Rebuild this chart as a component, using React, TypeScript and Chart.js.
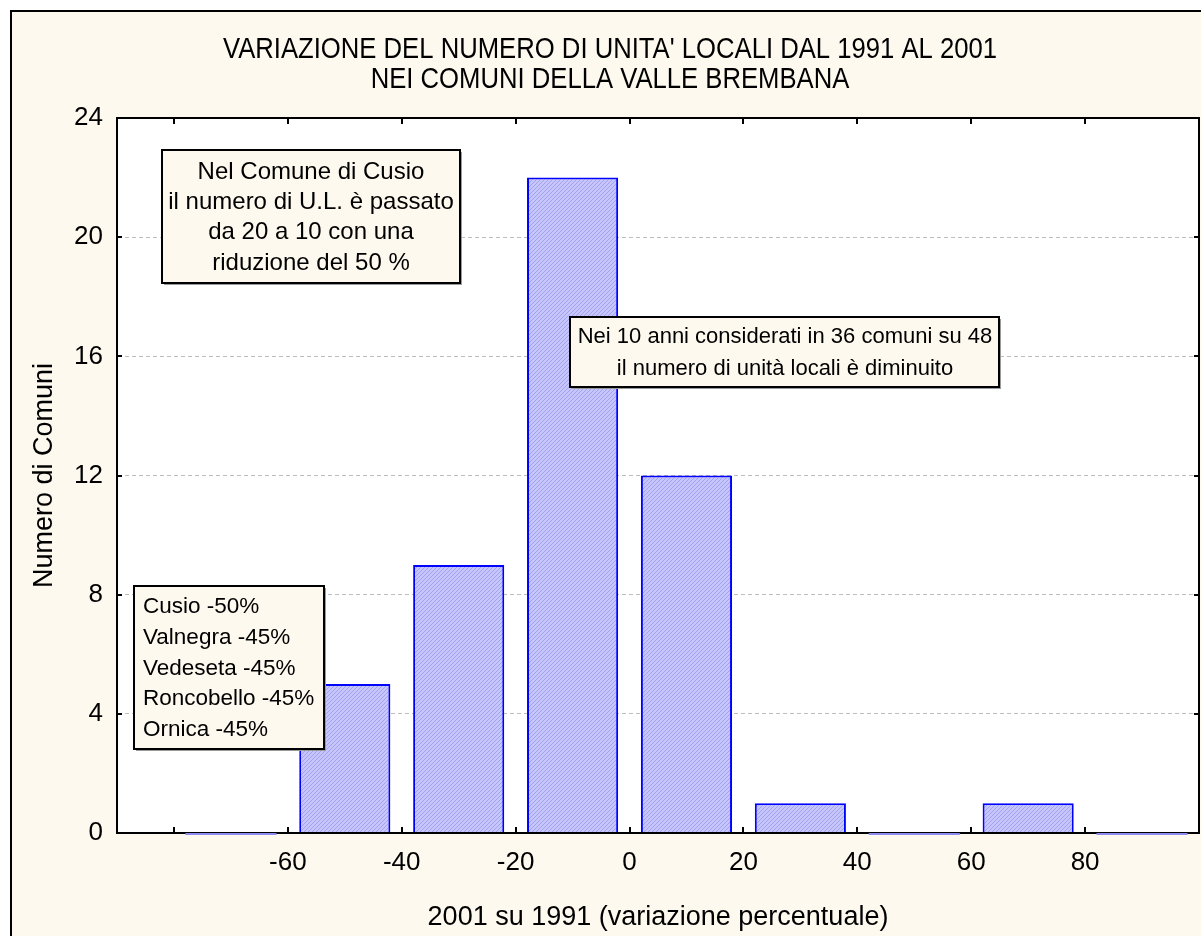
import React, { useEffect, useRef } from 'react';
import { Chart, registerables } from 'chart.js';

Chart.register(...registerables);

// ---- data ----
const binCenters = [-70, -50, -30, -10, 10, 30, 50, 70, 90];
const binCounts = [0, 5, 9, 22, 12, 1, 0, 1, 0];
const xTickValues = [-80, -60, -40, -20, 0, 20, 40, 60, 80];
const xTickLabels = ['', '-60', '-40', '-20', '0', '20', '40', '60', '80'];
const yTickValues = [0, 4, 8, 12, 16, 20, 24];
const titleLines = [
  "VARIAZIONE DEL NUMERO DI UNITA' LOCALI DAL 1991 AL 2001",
  'NEI COMUNI DELLA VALLE BREMBANA',
];
const xAxisTitle = '2001 su 1991 (variazione percentuale)';
const yAxisTitle = 'Numero di Comuni';
const noteCusio = [
  'Nel Comune di Cusio',
  'il numero di U.L. è passato',
  'da 20 a 10 con una',
  'riduzione del 50 %',
];
const noteDecline = [
  'Nei 10 anni considerati in 36 comuni su 48',
  'il numero di unità locali è diminuito',
];
const noteList = [
  'Cusio -50%',
  'Valnegra -45%',
  'Vedeseta -45%',
  'Roncobello -45%',
  'Ornica -45%',
];

const FONT = "'Liberation Sans', Arial, Helvetica, sans-serif";
const CREAM = '#FDF9EF';

function makeHatch(): CanvasPattern | string {
  const c = document.createElement('canvas');
  c.width = 4;
  c.height = 4;
  const g = c.getContext('2d');
  if (!g) return '#BEBEF8';
  g.fillStyle = '#C6C6FC';
  g.fillRect(0, 0, 4, 4);
  g.fillStyle = '#A2A2EE';
  for (let i = 0; i < 4; i++) g.fillRect(i, 3 - i, 1, 1);
  return g.createPattern(c, 'repeat') || '#BEBEF8';
}

function drawNote(
  ctx: CanvasRenderingContext2D,
  lines: string[],
  x: number,
  y: number,
  w: number,
  h: number,
  align: CanvasTextAlign,
  textX: number,
  firstY: number,
  lineH: number,
  fontSize: number
) {
  ctx.save();
  ctx.fillStyle = '#9a9a9a';
  ctx.fillRect(x + 2, y + 2, w, h);
  ctx.fillStyle = CREAM;
  ctx.fillRect(x, y, w, h);
  ctx.strokeStyle = '#000';
  ctx.lineWidth = 2;
  ctx.strokeRect(x, y, w, h);
  ctx.fillStyle = '#000';
  ctx.font = `${fontSize}px ${FONT}`;
  ctx.textAlign = align;
  ctx.textBaseline = 'middle';
  lines.forEach((l, i) => ctx.fillText(l, textX, firstY + i * lineH));
  ctx.restore();
}

const decorPlugin = {
  id: 'decor',
  beforeDraw(chart: any) {
    const { ctx, width, height, chartArea: a } = chart;
    ctx.save();
    ctx.fillStyle = '#ffffff';
    ctx.fillRect(0, 0, width, height);
    ctx.fillStyle = CREAM;
    ctx.fillRect(11, 11, width, height);
    ctx.strokeStyle = '#000';
    ctx.lineWidth = 2;
    ctx.strokeRect(11, 11, width + 30, height + 30);
    ctx.fillStyle = '#ffffff';
    ctx.fillRect(a.left, a.top, a.right - a.left, a.bottom - a.top);
    ctx.restore();
  },
  afterDraw(chart: any) {
    const { ctx, chartArea: a, scales } = chart;
    const xs = scales.x;
    const ys = scales.y;
    ctx.save();
    // zero-height bins: thin line along the base
    const meta = chart.getDatasetMeta(0);
    const base = ys.getPixelForValue(0);
    ctx.strokeStyle = '#8C8CF0';
    ctx.lineWidth = 2;
    binCounts.forEach((v, i) => {
      if (v !== 0) return;
      const el = meta.data[i];
      const p = el.getProps(['x', 'width'], true);
      ctx.beginPath();
      ctx.moveTo(p.x - p.width / 2, base + 1);
      ctx.lineTo(p.x + p.width / 2, base + 1);
      ctx.stroke();
    });
    // top and right border
    ctx.strokeStyle = '#000';
    ctx.lineWidth = 2;
    ctx.beginPath();
    ctx.moveTo(a.left, a.top);
    ctx.lineTo(a.right, a.top);
    ctx.lineTo(a.right, a.bottom);
    ctx.stroke();
    // inside ticks
    ctx.lineWidth = 2;
    ctx.beginPath();
    xTickValues.forEach((v) => {
      const px = Math.round(xs.getPixelForValue(v));
      ctx.moveTo(px, a.bottom);
      ctx.lineTo(px, a.bottom - 6);
      ctx.moveTo(px, a.top);
      ctx.lineTo(px, a.top + 6);
    });
    yTickValues.forEach((v) => {
      if (v === 0 || v === 24) return;
      const py = Math.round(ys.getPixelForValue(v));
      ctx.moveTo(a.left, py);
      ctx.lineTo(a.left + 5, py);
      ctx.moveTo(a.right, py);
      ctx.lineTo(a.right - 5, py);
    });
    ctx.stroke();

    // title
    ctx.fillStyle = '#000';
    ctx.font = `29px ${FONT}`;
    ctx.textAlign = 'center';
    ctx.textBaseline = 'alphabetic';
    const titleBase = [58, 88];
    titleLines.forEach((l, i) => {
      ctx.save();
      ctx.translate(610, titleBase[i]);
      ctx.scale(0.885, 1);
      ctx.fillText(l, 0, 0);
      ctx.restore();
    });

    // axis titles
    ctx.font = `27px ${FONT}`;
    ctx.textAlign = 'center';
    ctx.textBaseline = 'alphabetic';
    ctx.fillText(xAxisTitle, (a.left + a.right) / 2, 925);
    ctx.save();
    ctx.translate(52, (a.top + a.bottom) / 2);
    ctx.rotate(-Math.PI / 2);
    ctx.fillText(yAxisTitle, 0, 0);
    ctx.restore();

    // notes
    drawNote(ctx, noteCusio, 162, 150, 298, 133, 'center', 311, 172, 30.4, 24);
    drawNote(ctx, noteDecline, 570, 317, 429, 70, 'center', 785, 337, 32, 22);
    drawNote(ctx, noteList, 134, 586, 190, 163, 'left', 143, 607, 30.7, 22.5);
    ctx.restore();
  },
};

export default function App() {
  const ref = useRef<HTMLCanvasElement | null>(null);

  useEffect(() => {
    const canvas = ref.current;
    if (!canvas) return;
    const hatch = makeHatch();
    const tickFont = { family: FONT, size: 26 };
    const chart = new Chart(canvas, {
      type: 'bar',
      data: {
        datasets: [
          {
            data: binCenters.map((c, i) => ({ x: c, y: binCounts[i] })),
            backgroundColor: hatch as any,
            borderColor: '#0000FF',
            borderWidth: 2,
            borderSkipped: 'start',
            categoryPercentage: 1,
            barPercentage: 0.8,
          } as any,
        ],
      },
      options: {
        responsive: false,
        animation: false,
        devicePixelRatio: 1,
        layout: { padding: { top: 118, right: 2, left: 0, bottom: 0 } },
        plugins: {
          legend: { display: false },
          tooltip: { enabled: false },
          title: { display: false },
        },
        scales: {
          x: {
            type: 'linear',
            min: -90,
            max: 100,
            offset: false,
            afterBuildTicks: (s: any) => {
              s.ticks = xTickValues.map((v) => ({ value: v }));
            },
            afterFit: (s: any) => {
              s.height = 103;
            },
            grid: { display: false, drawTicks: false, offset: false },
            border: { display: true, color: '#000', width: 2, z: 1 },
            ticks: {
              callback: (_v: any, i: number) => xTickLabels[i],
              font: tickFont,
              color: '#000',
              padding: 14,
              maxRotation: 0,
              autoSkip: false,
            },
          },
          y: {
            type: 'linear',
            min: 0,
            max: 24,
            afterBuildTicks: (s: any) => {
              s.ticks = yTickValues.map((v) => ({ value: v }));
            },
            afterFit: (s: any) => {
              s.width = 117;
            },
            grid: {
              color: (c: any) =>
                c.tick && (c.tick.value === 0 || c.tick.value === 24)
                  ? 'rgba(0,0,0,0)'
                  : '#BDBDBD',
              lineWidth: 1,
              drawTicks: false,
            },
            border: { display: true, color: '#000', width: 2, dash: [4, 3], z: 1 },
            ticks: {
              font: tickFont,
              color: '#000',
              padding: 14,
              autoSkip: false,
            },
          },
        },
      } as any,
      plugins: [decorPlugin],
    });
    return () => chart.destroy();
  }, []);

  return (
    <div style={{ position: 'absolute', left: 0, top: 0, width: 1201, height: 936 }}>
      <canvas ref={ref} width={1201} height={936} style={{ display: 'block' }} />
    </div>
  );
}
